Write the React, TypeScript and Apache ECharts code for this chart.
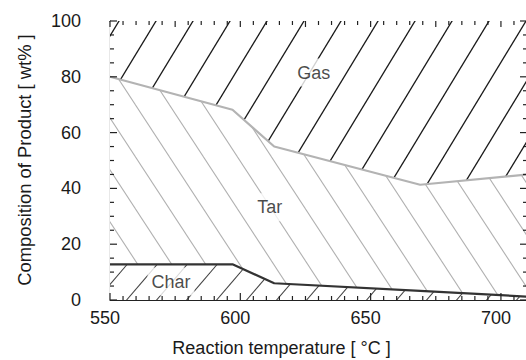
import React, { useEffect, useRef } from "react";
import * as echarts from "echarts";

// Reaction temperature [°C] sampling points
const temps = [550, 597, 613, 669, 710];
// Product composition [wt%]
const charPct = [12.8, 12.8, 6.0, 3.3, 1.2];
const tarPct = [67.2, 55.4, 49.0, 38.0, 43.8];
const gasPct = [20.0, 31.8, 45.0, 58.7, 55.0];

// Axis tick labels
const xLabels = [550, 600, 650, 700];
const yLabels = [0, 20, 40, 60, 80, 100];

// In-plot annotations (data coordinates)
const annoNames = ["Gas", "Tar", "Char"];
const annoT = [628.2, 611.3, 573.4];
const annoV = [81.5, 33.2, 6.6];

const X_MIN = 550;
const X_MAX = 710;
const Y_MIN = 0;
const Y_MAX = 100;

const FONT = "'Liberation Sans', Arial, Helvetica, sans-serif";

function hatch(W: number, H: number, dir: number, x0: number, color: string, width: number) {
  const c = document.createElement("canvas");
  c.width = W;
  c.height = H;
  const ctx = c.getContext("2d")!;
  ctx.fillStyle = "#ffffff";
  ctx.fillRect(0, 0, W, H);
  ctx.strokeStyle = color;
  ctx.lineWidth = width;
  ctx.lineCap = "butt";
  const xs = ((x0 % W) + W) % W;
  for (let k = -3; k <= 3; k++) {
    const xa = xs + k * W;
    ctx.beginPath();
    ctx.moveTo(xa - dir * W * 0.5, -H * 0.5);
    ctx.lineTo(xa + dir * W * 1.5, H * 1.5);
    ctx.stroke();
  }
  return { image: c as any, repeat: "repeat", imageWidth: W, imageHeight: H } as any;
}

export default function App() {
  const ref = useRef<HTMLDivElement>(null);
  useEffect(() => {
    if (!ref.current) return;
    const chart = echarts.init(ref.current, null, { renderer: "svg" });

    // cumulative boundaries of the stacked composition
    const charTop = temps.map((t, i) => [t, charPct[i]]);
    const tarTop = temps.map((t, i) => [t, charPct[i] + tarPct[i]]);
    const gasTop = temps.map((t, i) => [t, charPct[i] + tarPct[i] + gasPct[i]]);

    // frame tick marks (inside): [value, side(0 bottom,1 top,2 left,3 right), length]
    const ticks: number[][] = [];
    for (let v = X_MIN; v <= X_MAX; v += 5) {
      ticks.push([v, 0, v % 50 === 0 ? 7 : 4]);
      ticks.push([v, 1, v % 25 === 0 ? 6 : 4]);
    }
    for (let v = Y_MIN; v <= Y_MAX; v += 5) {
      ticks.push([v, 2, v % 20 === 0 ? 7 : 4]);
      ticks.push([v, 3, v % 20 === 0 ? 7 : 4]);
    }

    const textStyle = { fontFamily: FONT, fontSize: 18, color: "#1a1a1a" };

    chart.setOption({
      animation: false,
      grid: { left: 110, top: 21, right: 13, bottom: 60 },
      xAxis: [
        {
          type: "value",
          min: X_MIN,
          max: X_MAX,
          interval: 50,
          position: "bottom",
          splitLine: { show: false },
          axisLine: { show: true, onZero: false, lineStyle: { color: "#222", width: 1.2 } },
          axisTick: { show: false },
          axisLabel: {
            ...textStyle,
            margin: 9,
            padding: [0, 10, 0, 0],
            showMaxLabel: false,
            formatter: (v: number) => (xLabels.includes(v) ? String(v) : ""),
          },
        },
        {
          type: "value",
          min: X_MIN,
          max: X_MAX,
          interval: 50,
          position: "top",
          splitLine: { show: false },
          axisLine: { show: true, onZero: false, lineStyle: { color: "#333", width: 1.2 } },
          axisTick: { show: false },
          axisLabel: { show: false },
        },
      ],
      yAxis: [
        {
          type: "value",
          min: Y_MIN,
          max: Y_MAX,
          interval: 20,
          position: "left",
          splitLine: { show: false },
          axisLine: { show: true, onZero: false, lineStyle: { color: "#222", width: 1.2 } },
          axisTick: { show: false },
          axisLabel: {
            ...textStyle,
            margin: 29,
            padding: [0, 0, 11, 0],
            formatter: (v: number) => (yLabels.includes(v) ? String(v) : ""),
          },
        },
        {
          type: "value",
          min: Y_MIN,
          max: Y_MAX,
          interval: 20,
          position: "right",
          splitLine: { show: false },
          axisLine: { show: true, onZero: false, lineStyle: { color: "#222", width: 1.2 } },
          axisTick: { show: false },
          axisLabel: { show: false },
        },
      ],
      graphic: [
        {
          type: "text",
          x: 281.5,
          y: 348,
          z: 20,
          style: {
            text: "Reaction temperature [ °C ]",
            fontFamily: FONT,
            fontSize: 18,
            fill: "#1a1a1a",
            align: "center",
            verticalAlign: "middle",
          },
        },
        {
          type: "text",
          x: 24,
          y: 160,
          z: 20,
          rotation: Math.PI / 2,
          style: {
            text: "Composition of Product [ wt% ]",
            fontFamily: FONT,
            fontSize: 18.4,
            fill: "#1a1a1a",
            align: "center",
            verticalAlign: "middle",
          },
        },
      ],
      series: [
        {
          name: "Gas",
          type: "line",
          z: 2,
          data: gasTop,
          symbol: "none",
          lineStyle: { width: 0, opacity: 0 },
          areaStyle: { color: hatch(37, 61, -1, 20.74, "#1a1a1a", 1.3), opacity: 1 },
        },
        {
          name: "Tar",
          type: "line",
          z: 3,
          data: tarTop,
          symbol: "none",
          lineStyle: { color: "#b3b3b3", width: 2.2 },
          areaStyle: { color: hatch(34, 52, 1, 32.9, "#b0b0b0", 1.1), opacity: 1 },
        },
        {
          name: "Char",
          type: "line",
          z: 4,
          data: charTop,
          symbol: "none",
          lineStyle: { color: "#333", width: 2.2 },
          areaStyle: { color: hatch(30, 35, -1, 23.8, "#444", 1.1), opacity: 1 },
        },
        {
          name: "ticks",
          type: "custom",
          z: 5,
          silent: true,
          data: ticks,
          renderItem: (params: any, api: any) => {
            const v = api.value(0);
            const side = api.value(1);
            const len = api.value(2);
            let p: number[];
            let q: number[];
            if (side === 0) {
              p = api.coord([v, Y_MIN]);
              q = [p[0], p[1] - len];
            } else if (side === 1) {
              p = api.coord([v, Y_MAX]);
              q = [p[0], p[1] + len];
            } else if (side === 2) {
              p = api.coord([X_MIN, v]);
              q = [p[0] + len, p[1]];
            } else {
              p = api.coord([X_MAX, v]);
              q = [p[0] - len, p[1]];
            }
            return {
              type: "line",
              shape: { x1: p[0], y1: p[1], x2: q[0], y2: q[1] },
              style: { stroke: "#222", lineWidth: 1.2 },
            };
          },
        },
        {
          name: "labels",
          type: "scatter",
          z: 6,
          symbolSize: 1,
          itemStyle: { color: "transparent" },
          data: annoNames.map((n, i) => ({ name: n, value: [annoT[i], annoV[i]] })),
          label: {
            show: true,
            position: "inside",
            formatter: "{b}",
            fontFamily: FONT,
            fontSize: 18,
            color: "#1a1a1a",
            backgroundColor: "#fff",
            padding: [5, 4],
          },
        },
      ],
    });
    return () => chart.dispose();
  }, []);
  return (
    <div
      style={{
        position: "fixed",
        left: 0,
        top: 0,
        width: 526,
        height: 360,
        overflow: "hidden",
        background: "#fff",
      }}
    >
      <div ref={ref} style={{ width: 540, height: 360 }} />
    </div>
  );
}
